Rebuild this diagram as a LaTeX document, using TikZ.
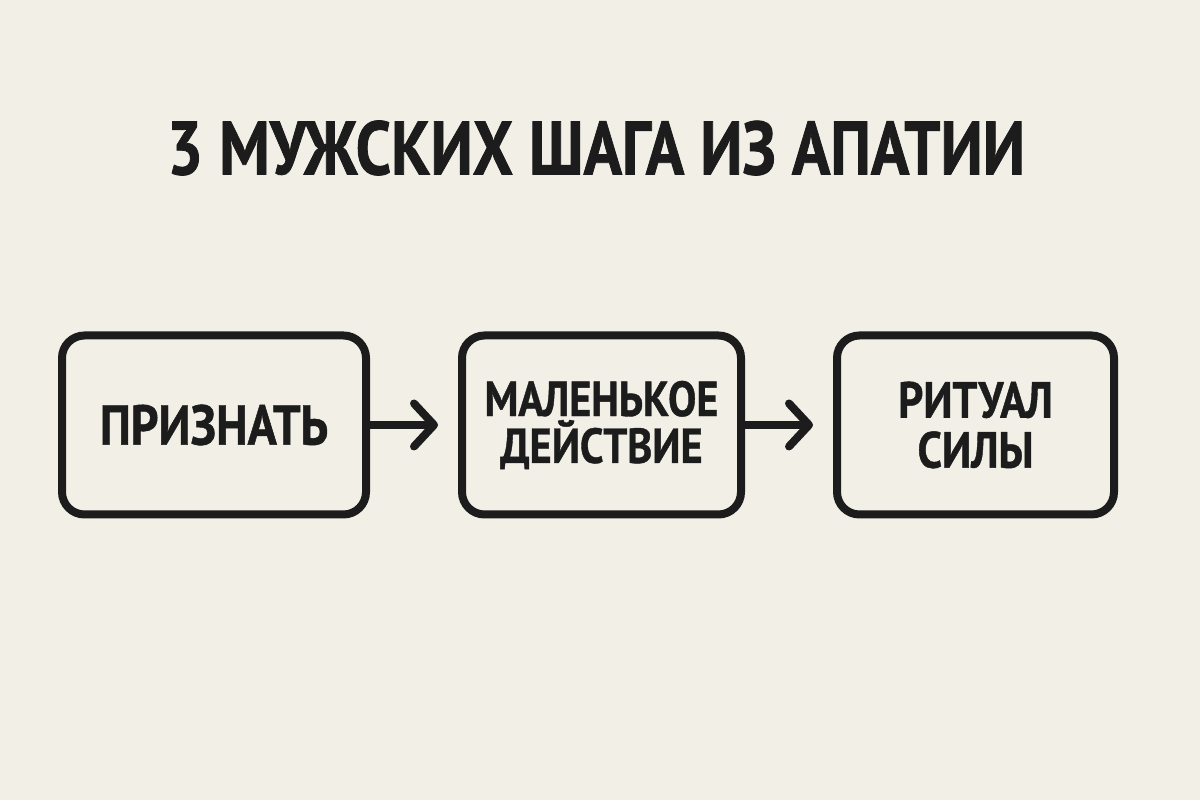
\documentclass[tikz,border=0pt]{standalone}
\usepackage{fontspec}
\usepackage{tikz}
\usetikzlibrary{arrows.meta, positioning}
\newfontfamily\stepfont{PT Sans}[FakeStretch=0.86, BoldFont=* Bold, BoldFeatures={FakeBold=0.8}]
\newfontfamily\titlefont{PT Sans}[FakeStretch=0.84, BoldFont=* Bold, BoldFeatures={FakeBold=1}]
\definecolor{paper}{RGB}{242,239,230}
\definecolor{ink}{RGB}{28,28,28}

\begin{document}
\begin{tikzpicture}[
    >={Straight Barb[length=4mm, width=8.6mm, line cap=round, line join=round]},
    stepbox/.style={draw=ink, line width=1.6mm, rounded corners=4.5mm, minimum height=3.58cm, align=center, text=ink},
    flow/.style={draw=ink, line width=1.6mm, line cap=round, ->, shorten >=4mm},
]
    \fill[paper] (0,0) rectangle (24,16);
    \useasboundingbox (0,0) rectangle (24,16);

    \node[text=ink, font=\titlefont\bfseries\fontsize{43}{50}\selectfont] (title) at (11.92,13.04) {3 МУЖСКИХ ШАГА ИЗ АПАТИИ};

    \node[stepbox, minimum width=6.08cm, font=\stepfont\bfseries\fontsize{32}{36}\selectfont] (admit) at (4.28,7.5) {ПРИЗНАТЬ};
    \node[stepbox, minimum width=5.58cm, font=\stepfont\bfseries\fontsize{28}{26.7}\selectfont] (action) at (12.03,7.5) {МАЛЕНЬКОЕ\\ДЕЙСТВИЕ};
    \node[stepbox, minimum width=5.54cm, font=\stepfont\bfseries\fontsize{29}{28.4}\selectfont] (ritual) at (19.51,7.5) {РИТУАЛ\\СИЛЫ};

    \draw[flow] (admit) -- (action);
    \draw[flow] (action) -- (ritual);
\end{tikzpicture}
\end{document}
